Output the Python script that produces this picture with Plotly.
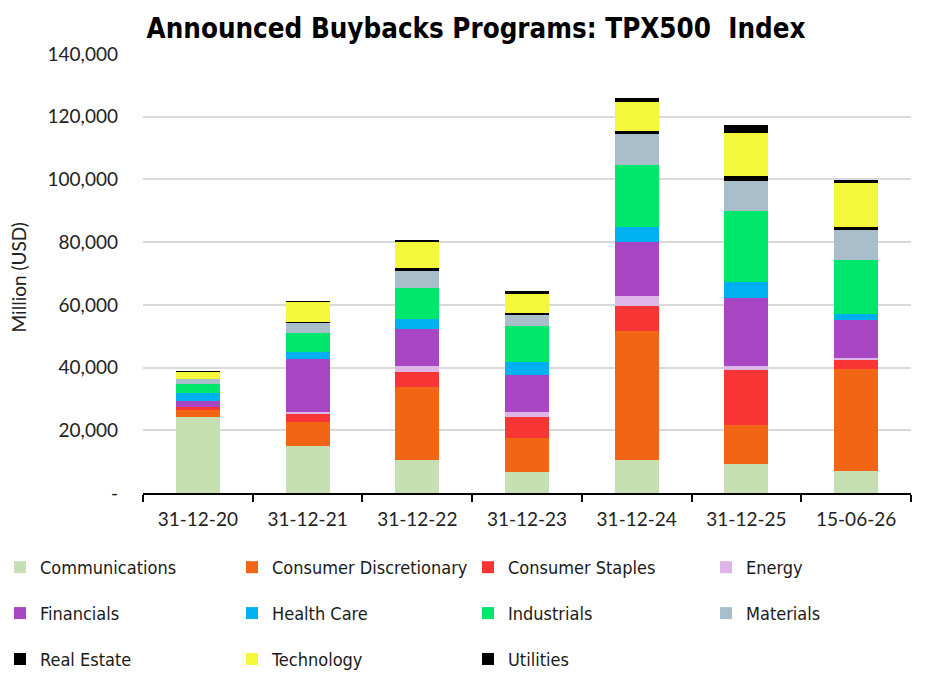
import plotly.graph_objects as go

dates = ["31-12-20", "31-12-21", "31-12-22", "31-12-23", "31-12-24", "31-12-25", "15-06-26"]

communications = [24300, 15000, 10400, 6800, 10600, 9300, 7100]
consumer_discretionary = [2200, 7600, 23500, 10800, 41100, 12500, 32500]
consumer_staples = [1000, 2900, 4750, 6700, 8000, 17500, 2900]
energy = [50, 300, 1900, 1600, 3200, 1300, 600]
financials = [1900, 17000, 11600, 11800, 17200, 21600, 12100]
health_care = [2300, 2300, 3400, 4200, 4800, 5100, 1900]
industrials = [3100, 6000, 9900, 11400, 19700, 22700, 17300]
materials = [1600, 3200, 5400, 3500, 9900, 9500, 9500]
real_estate = [0, 300, 1000, 700, 1000, 1600, 1000]
technology = [2200, 6400, 8300, 6000, 9200, 13700, 14000]
utilities = [50, 200, 300, 1000, 1300, 2600, 900]

y_tick_values = [0, 20000, 40000, 60000, 80000, 100000, 120000, 140000]
y_tick_labels = ["-", "20,000", "40,000", "60,000", "80,000", "100,000", "120,000", "140,000"]
y_title = "Million (USD)"

# (name, values, colour, legend column)
series = [
    ("Communications", communications, "#C6E0B4", "legend"),
    ("Consumer Discretionary", consumer_discretionary, "#F26515", "legend2"),
    ("Consumer Staples", consumer_staples, "#F83535", "legend3"),
    ("Energy", energy, "#DDB5E6", "legend4"),
    ("Financials", financials, "#A846C4", "legend"),
    ("Health Care", health_care, "#00B0F0", "legend2"),
    ("Industrials", industrials, "#00E86B", "legend3"),
    ("Materials", materials, "#A8BECB", "legend4"),
    ("Real Estate", real_estate, "#000000", "legend"),
    ("Technology", technology, "#F3F93A", "legend2"),
    ("Utilities", utilities, "#000000", "legend3"),
]

fig = go.Figure()
for name, vals, color, lg in series:
    fig.add_trace(go.Bar(
        x=dates, y=vals, name=name, legend=lg, legendgroup=name,
        marker=dict(color=color, line=dict(width=0)),
    ))

legend_font = dict(family="DejaVu Sans Condensed, sans-serif", size=18, color="#1a1a1a")

def leg(x):
    return dict(
        orientation="v", xref="container", yref="container",
        x=x, xanchor="left", y=0.1974, yanchor="top",
        font=legend_font, tracegroupgap=19.5,
        bgcolor="rgba(0,0,0,0)", borderwidth=0, itemclick=False, traceorder="grouped",
    )

axis_font = dict(family="Lato, sans-serif", size=19, color="#222")

fig.update_layout(
    width=952, height=684,
    margin=dict(l=143, r=41, t=54, b=191, autoexpand=False),
    paper_bgcolor="white", plot_bgcolor="white",
    barmode="stack", bargap=0.6,
    title=dict(
        text="<b>Announced Buybacks Programs: TPX500\u00a0 Index</b>",
        x=0.5, xanchor="center", y=0.958, yanchor="middle",
        font=dict(family="DejaVu Sans Condensed, sans-serif", size=27.5, color="black"),
    ),
    xaxis=dict(
        type="category", showline=True, linecolor="black", linewidth=2,
        ticks="outside", tickson="boundaries", ticklen=7, tickwidth=2, tickcolor="black",
        showgrid=False, tickfont=axis_font, ticklabelstandoff=8, automargin=False,
    ),
    yaxis=dict(
        range=[0, 140000], tickvals=y_tick_values, ticktext=y_tick_labels,
        showgrid=True, gridcolor="#D9D9D9", gridwidth=1.5, zeroline=False,
        ticks="", ticklabelstandoff=24, tickfont=axis_font, automargin=False,
    ),
    annotations=[dict(
        text=y_title, textangle=-90, showarrow=False,
        xref="paper", yref="paper", x=(18.5 - 143) / 768, y=0.49,
        xanchor="center", yanchor="middle",
        font=dict(family="Lato, sans-serif", size=19, color="#222"),
    )],
    legend=leg(0.0),
    legend2=leg(232 / 952),
    legend3=leg(468 / 952),
    legend4=leg(706 / 952),
)

fig.write_html("out.html")
